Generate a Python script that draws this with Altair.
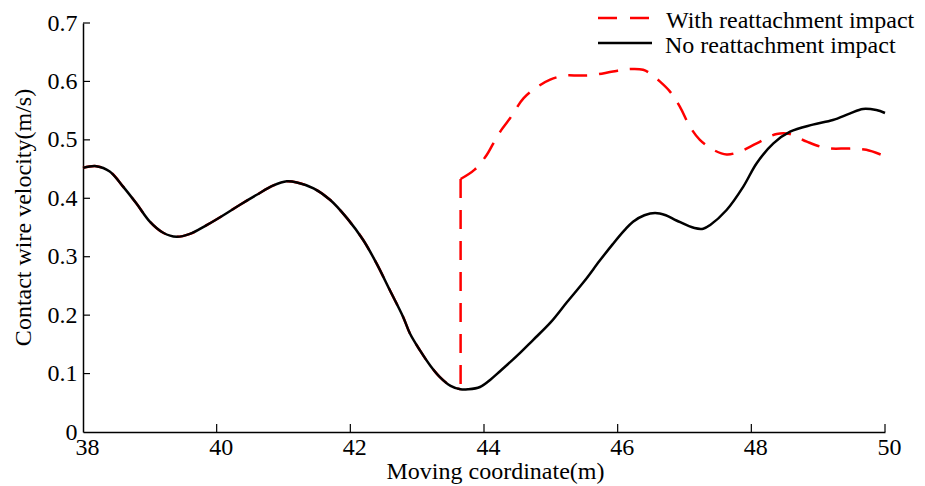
import altair as alt
import pandas as pd

# ---- data ----
black_x = [38.0, 38.2, 38.4, 38.6, 38.8, 39.0, 39.2, 39.4, 39.6, 39.85, 40.1, 40.35, 40.6, 40.85,
           41.05, 41.2, 41.45, 41.7, 41.95, 42.19, 42.39, 42.59, 42.79, 42.89, 43.04, 43.2, 43.34,
           43.5, 43.65, 43.76, 43.94, 44.1, 44.24, 44.5, 44.73, 45.0, 45.24, 45.5, 45.73, 45.93,
           46.1, 46.23, 46.4, 46.56, 46.72, 46.88, 47.15, 47.28, 47.38, 47.63, 47.88, 48.08,
           48.33, 48.58, 48.92, 49.22, 49.47, 49.67, 49.87, 50.0]
black_y = [0.452, 0.455, 0.446, 0.420, 0.391, 0.360, 0.341, 0.334, 0.339, 0.354, 0.371, 0.389,
           0.406, 0.422, 0.429, 0.427, 0.417, 0.397, 0.366, 0.329, 0.289, 0.243, 0.197, 0.169,
           0.140, 0.113, 0.094, 0.079, 0.073, 0.073, 0.077, 0.090, 0.104, 0.131, 0.157, 0.188,
           0.222, 0.258, 0.293, 0.322, 0.345, 0.360, 0.371, 0.375, 0.371, 0.362, 0.349, 0.348,
           0.354, 0.380, 0.420, 0.460, 0.494, 0.514, 0.526, 0.534, 0.545, 0.553, 0.551, 0.546]

jump_x = 43.65
red_after_x = [43.65, 43.86, 44.04, 44.14, 44.26, 44.39, 44.59, 44.79, 44.99, 45.21, 45.43, 45.63,
               45.93, 46.16, 46.38, 46.48, 46.63, 46.78, 46.93, 47.08, 47.23, 47.43, 47.63, 47.83,
               48.08, 48.38, 48.58, 48.83, 49.12, 49.47, 49.72, 50.0]
red_after_y = [0.433, 0.449, 0.474, 0.494, 0.517, 0.537, 0.571, 0.590, 0.603, 0.610, 0.610, 0.611,
               0.617, 0.621, 0.620, 0.614, 0.600, 0.583, 0.557, 0.523, 0.500, 0.483, 0.475, 0.480,
               0.494, 0.510, 0.510, 0.497, 0.486, 0.485, 0.483, 0.472]

series_names = ["With reattachment impact", "No reattachment impact"]
series_colors = ["#ff0000", "#000000"]
x_ticks = [38, 40, 42, 44, 46, 48, 50]
y_ticks = [0, 0.1, 0.2, 0.3, 0.4, 0.5, 0.6, 0.7]

# ---- tables ----
pre = [(x, y) for x, y in zip(black_x, black_y) if x <= jump_x]
rows = [("a", x, y) for x, y in pre]
rows += [("v", jump_x, red_after_y[0]), ("v", jump_x, pre[-1][1])]
rows += [("b", x, y) for x, y in zip(red_after_x, red_after_y)]
red_df = pd.DataFrame(rows, columns=["seg", "x", "y"])
red_df["i"] = range(len(red_df))
black_df = pd.DataFrame({"x": black_x, "y": black_y, "i": range(len(black_x))})

W, H = 802, 409
FONT = "Liberation Serif"
FS = 24

xs = alt.Scale(domain=[38, 50], nice=False, zero=False)
ys = alt.Scale(domain=[0, 0.7], nice=False)

x_axis = alt.Axis(values=x_ticks, format="d", title="Moving coordinate(m)", ticks=False, tickSize=0,
                  labelPadding=22, labelBaseline="alphabetic", labelOffset=4, titleY=46, titleX=412,
                  titleBaseline="alphabetic", grid=False)
y_axis = alt.Axis(values=y_ticks, format="~g", title="Contact wire velocity(m/s)", ticks=False,
                  tickSize=0, labelPadding=6, grid=False, titleX=-60, titleY=194,
                  titleBaseline="middle")

red = alt.Chart(red_df).mark_line(color=series_colors[0], strokeWidth=2.5,
                                  strokeDash=[19, 12], interpolate="catmull-rom").encode(
    x=alt.X("x:Q", scale=xs, axis=x_axis),
    y=alt.Y("y:Q", scale=ys, axis=y_axis),
    detail="seg:N",
    order="i:Q")

black = alt.Chart(black_df).mark_line(color=series_colors[1], strokeWidth=2.5,
                                      interpolate="catmull-rom").encode(
    x=alt.X("x:Q", scale=xs),
    y=alt.Y("y:Q", scale=ys),
    order="i:Q")

xt = alt.Chart(pd.DataFrame({"t": x_ticks[1:]})).mark_rule(color="black", strokeWidth=1.2).encode(
    x=alt.X("t:Q", scale=xs), y=alt.value(H), y2=alt.value(H - 8))
yt = alt.Chart(pd.DataFrame({"t": y_ticks[1:]})).mark_rule(color="black", strokeWidth=1.2).encode(
    y=alt.Y("t:Q", scale=ys), x=alt.value(0), x2=alt.value(7))

leg_red_sym = alt.Chart(pd.DataFrame({"s": [series_names[0]]})).mark_rule(
    color=series_colors[0], strokeWidth=2.5, strokeDash=[19, 13]).encode(
    x=alt.value(515), x2=alt.value(569), y=alt.value(-5))
leg_blk_sym = alt.Chart(pd.DataFrame({"s": [series_names[1]]})).mark_rule(
    color=series_colors[1], strokeWidth=2.5).encode(
    x=alt.value(515), x2=alt.value(569), y=alt.value(20))
leg_red_txt = alt.Chart(pd.DataFrame({"s": [series_names[0]]})).mark_text(
    font=FONT, fontSize=FS, align="left", baseline="alphabetic", color="black").encode(
    x=alt.value(583), y=alt.value(5), text="s:N")
leg_blk_txt = alt.Chart(pd.DataFrame({"s": [series_names[1]]})).mark_text(
    font=FONT, fontSize=FS, align="left", baseline="alphabetic", color="black").encode(
    x=alt.value(582), y=alt.value(30), text="s:N")

chart = alt.layer(red, black, xt, yt, leg_red_sym, leg_blk_sym, leg_red_txt, leg_blk_txt).properties(
    width=W, height=H,
    background="white",
    autosize=alt.AutoSizeParams(type="none"),
    padding={"left": 83, "top": 23, "right": 40, "bottom": 54},
).configure_view(stroke=None).configure_axis(
    domainColor="black", domainWidth=1.5, labelFont=FONT, titleFont=FONT,
    labelFontSize=FS, titleFontSize=FS, labelColor="black", titleColor="black",
    titleFontWeight="normal", labelFlush=False, labelOverlap=False,
)

chart.save("out.html", embed_options={"renderer": "svg", "actions": False})
